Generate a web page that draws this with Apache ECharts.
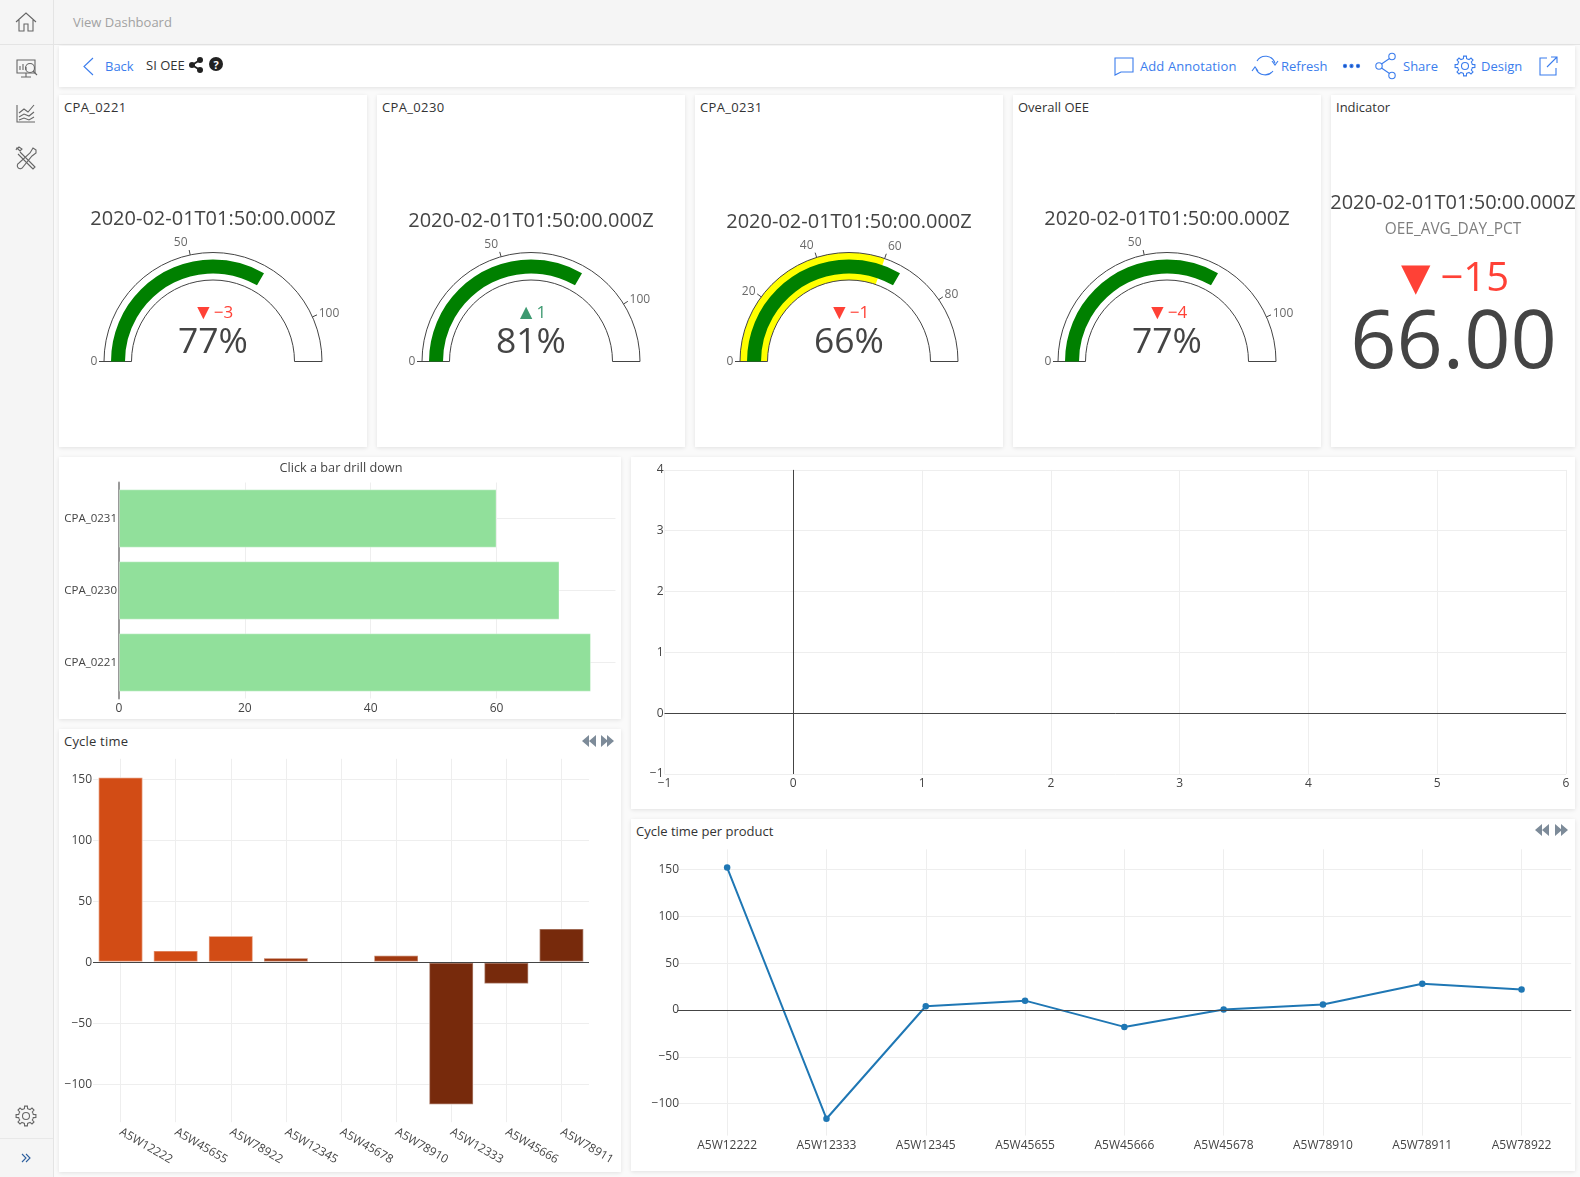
<!DOCTYPE html>
<html>
<head>
<meta charset="utf-8">
<title>SI OEE</title>
<script src="https://cdn.jsdelivr.net/npm/echarts@6/dist/echarts.min.js"></script>
<style>
html,body{margin:0;padding:0;width:1580px;height:1177px;overflow:hidden;background:#fafafa;font-family:"Open Sans",sans-serif;color:#333}
.abs{position:absolute}
.side{left:0;top:0;width:53px;height:1177px;background:#f5f5f5;border-right:1px solid #e4e4e4}
.head{left:54px;top:0;right:0;height:44px;background:#f5f5f5;border-bottom:1px solid #e4e4e4}
.panel{position:absolute;background:#fff;box-shadow:0 1px 4px rgba(0,0,0,.10)}
.t{position:absolute;transform:translateY(-50%);font-size:13px;line-height:18px;white-space:nowrap}
.cpa{letter-spacing:.35px}
.blue{color:#3b7ded}
svg{position:absolute;overflow:visible}
#chart{position:absolute;left:0;top:0;width:1580px;height:1177px}
</style>
</head>
<body>
<div class="abs side"></div>
<div class="abs head"></div>
<div class="abs" style="left:0;top:44px;width:53px;border-top:1px solid #e4e4e4"></div>
<div class="abs" style="left:0;top:1138px;width:53px;border-top:1px solid #e8e8e8"></div>
<span class="t" style="left:73px;top:22px;color:#a2a2a2">View Dashboard</span>

<div class="panel" style="left:59px;top:46px;width:1516px;height:41px"></div>
<div class="panel" style="left:59px;top:95px;width:308px;height:352px"></div>
<div class="panel" style="left:377px;top:95px;width:308px;height:352px"></div>
<div class="panel" style="left:695px;top:95px;width:308px;height:352px"></div>
<div class="panel" style="left:1013px;top:95px;width:308px;height:352px"></div>
<div class="panel" style="left:1331px;top:95px;width:244px;height:352px"></div>
<div class="panel" style="left:59px;top:457px;width:562px;height:262px"></div>
<div class="panel" style="left:59px;top:729px;width:562px;height:443px"></div>
<div class="panel" style="left:631px;top:457px;width:944px;height:352px"></div>
<div class="panel" style="left:631px;top:819px;width:944px;height:352px"></div>

<span class="t blue" style="left:105px;top:66px">Back</span>
<span class="t" style="left:146px;top:65px">SI OEE</span>
<span class="t blue" style="left:1140px;top:66px;letter-spacing:.1px">Add Annotation</span>
<span class="t blue" style="left:1281px;top:66px">Refresh</span>
<span class="t blue" style="left:1403px;top:66px">Share</span>
<span class="t blue" style="left:1481px;top:66px">Design</span>

<span class="t cpa" style="left:64px;top:107px">CPA_0221</span>
<span class="t cpa" style="left:382px;top:107px">CPA_0230</span>
<span class="t cpa" style="left:700px;top:107px">CPA_0231</span>
<span class="t" style="left:1018px;top:107px">Overall OEE</span>
<span class="t" style="left:1336px;top:107px">Indicator</span>
<span class="t" style="left:64px;top:741px;letter-spacing:.2px">Cycle time</span>
<span class="t" style="left:636px;top:831px">Cycle time per product</span>

<!-- sidebar icons -->
<svg style="left:0;top:0" width="54" height="1177" fill="none" stroke="#666" stroke-width="1.1">
  <path d="M16 22 L26 13 L36 22 M19 20 V31 H24 V24 H28 V31 H33 V20"/>
  <path d="M17 60 H35 V73 H17 Z M26 73 V77 M21 77 H31 M20 70 V66 M23 70 V64 M26 70 V67"/>
  <circle cx="30" cy="68" r="4.5"/><path d="M33 71 L37 75"/>
  <path d="M17 105 V122 H35 M19 113 L24 109 L28 112 L34 105 M19 117 L24 114 L29 116 L34 112 M19 120 L24 118 L29 120 L34 117"/>
  <path d="M20 152 L33 165 L35 167 L33 169 L31 167 L18 154 M16 150 L17 148 L20 151 L22 149 L19 147 L17 149"/>
  <path d="M36 150 L33 148 L30 153 L19 163 A3 3 0 1 0 23 167 L32 156 L36 153 Z"/>
  <path class="gear" data-c="26,1116" d=""/>
  <path d="M22 1154 L26 1158 L22 1162 M26 1154 L30 1158 L26 1162" stroke="#2d5f9e"/>
</svg>
<!-- toolbar icons -->
<svg style="left:0;top:0" width="1580" height="90" fill="none" stroke="#3b7ded" stroke-width="1.1">
  <path d="M93 58 L84 66.5 L93 75"/>
  <path d="M1115 58 H1133 V72 H1121 L1115 75 Z"/>
  <path d="M1257 61 A10 10 0 0 1 1275 63 M1273 71 A10 10 0 0 1 1256 69 M1272 61 L1275 65 L1278 61 M1252 71 L1255 67 L1258 71"/>
  <circle cx="1345" cy="66" r="1.6" fill="#1d4fb0"/><circle cx="1351.5" cy="66" r="1.6" fill="#1d4fb0"/><circle cx="1358" cy="66" r="1.6" fill="#1d4fb0"/>
  <circle cx="1379" cy="66" r="3.2"/><circle cx="1392" cy="56.5" r="3.2"/><circle cx="1392" cy="75.5" r="3.2"/>
  <path d="M1381.5 64 L1389.5 58.5 M1381.5 68 L1389.5 73.5"/>
  <path class="gear" data-c="1465,66" d=""/>
  <path d="M1547 58 H1540 V75 H1556 V68 M1547 67 L1557 57 M1551 57 H1557 V63"/>
</svg>
<svg style="left:0;top:0" width="240" height="90" fill="#222">
  <circle cx="192" cy="65" r="3"/><circle cx="200" cy="60" r="3"/><circle cx="200" cy="70" r="3"/>
  <path d="M192 65 L200 60 M192 65 L200 70" stroke="#222" stroke-width="2"/>
  <circle cx="216" cy="64" r="7"/>
  <text x="216" y="68.5" text-anchor="middle" font-size="11" font-weight="700" fill="#fff" font-family="Open Sans">?</text>
</svg>
<!-- paging arrows -->
<svg style="left:0;top:0" width="1580" height="860" fill="#7d8b99">
  <path d="M589 735 L582 741 L589 747 Z M596 735 L589 741 L596 747 Z M601 735 L608 741 L601 747 Z M607 735 L614 741 L607 747 Z"/>
  <path d="M1542 824 L1535 830 L1542 836 Z M1549 824 L1542 830 L1549 836 Z M1555 824 L1562 830 L1555 836 Z M1561 824 L1568 830 L1561 836 Z"/>
</svg>

<div id="chart"></div>
<script>
// ---- data ----
const gaugeNames    = ['CPA_0221', 'CPA_0230', 'CPA_0231', 'Overall OEE'];
const gaugeValues   = [77, 81, 66, 77];
const gaugeRangeMax = [115.5, 121.5, 99, 115.5];
const gaugeTicks    = [[0, 50, 100], [0, 50, 100], [0, 20, 40, 60, 80], [0, 50, 100]];
const gaugeSteps    = [0, 0, 60, 0];
const gaugeDeltas   = [-3, 1, -1, -4];
const timeStamp     = '2020-02-01T01:50:00.000Z';
const indicatorName = 'OEE_AVG_DAY_PCT';
const indicatorValue= 66.00;
const indicatorDelta= -15;

const drillCategories = ['CPA_0221', 'CPA_0230', 'CPA_0231'];
const drillValues     = [75, 70, 60];
const drillTicks      = [0, 20, 40, 60];

const cycleCategories = ['A5W12222','A5W45655','A5W78922','A5W12345','A5W45678','A5W78910','A5W12333','A5W45666','A5W78911'];
const cycleValues     = [152, 10, 22, 4, 0.3, 6, -117, -18, 28];
const cycleTicks      = [-100, -50, 0, 50, 100, 150];
const cycleColors     = ['#d24c15','#d24c15','#d24c15','#a0390f','#a0390f','#a0390f','#772a0c','#772a0c','#772a0c'];

const productCategories = ['A5W12222','A5W12333','A5W12345','A5W45655','A5W45666','A5W45678','A5W78910','A5W78911','A5W78922'];
const productValues     = [152, -116, 4, 10, -18, 0.5, 6, 28, 22];
const productTicks      = [-100, -50, 0, 50, 100, 150];

// ---- chrome: gear icons ----
document.querySelectorAll('.gear').forEach(el => {
  const [cx, cy] = el.dataset.c.split(',').map(Number);
  let d = '';
  const teeth = 8;
  for (let i = 0; i < teeth; i++) {
    const a = i * 2 * Math.PI / teeth, w = Math.PI / teeth;
    const pts = [[7.5, a - w], [7.5, a - w * .55], [10, a - w * .35], [10, a + w * .35], [7.5, a + w * .55]];
    pts.forEach(([r, t], j) => {
      d += (i === 0 && j === 0 ? 'M' : 'L') + (cx + r * Math.cos(t)).toFixed(1) + ' ' + (cy + r * Math.sin(t)).toFixed(1) + ' ';
    });
  }
  d += 'Z M' + (cx + 3.5) + ' ' + cy + ' A3.5 3.5 0 1 0 ' + (cx - 3.5) + ' ' + cy + ' A3.5 3.5 0 1 0 ' + (cx + 3.5) + ' ' + cy;
  el.setAttribute('d', d);
});

// ---- layout ----
const FONT = '"Open Sans", sans-serif';
const INK = '#444';
const GRIDC = '#eeeeee';
const RED = '#ff4136', GREEN = '#3d9970';
const gaugeCx = [213, 531, 849, 1167];
const gaugeCy = 361.5;
const stampTop = [219, 221, 222, 219];
const OUTER = 109;
const TICK_LEN = 5;
const minus = v => String(v).replace('-', '\u2212');

const chart = echarts.init(document.getElementById('chart'), null, {renderer: 'canvas'});
const series = [], titles = [], polars = [], angleAxes = [], radiusAxes = [];
const pieBase = {type:'pie', silent:true, animation:false, startAngle:180, endAngle:0, clockwise:true,
  label:{show:false}, labelLine:{show:false}, emphasis:{disabled:true}};
const textTitle = (text, left, top, style) => ({text, left, top, padding:0, textAlign:'center', textVerticalAlign:'middle',
  textStyle:Object.assign({fontFamily:FONT, fontWeight:'normal', color:INK}, style)});
const hidden = {axisLine:{show:false}, axisTick:{show:false}, axisLabel:{show:false}, splitLine:{show:false}};

gaugeNames.forEach((name, i) => {
  const c = [gaugeCx[i], gaugeCy], max = gaugeRangeMax[i], ticks = gaugeTicks[i];
  const lastTick = ticks[ticks.length - 1];
  titles.push(textTitle(timeStamp, gaugeCx[i], stampTop[i], {fontSize:20}));
  series.push(Object.assign({}, pieBase, {name: name+' bg', center:c, radius:[81.5,OUTER], z:1,
    data:[{value:max, itemStyle:{color:'#fff'}}]}));
  if (gaugeSteps[i]) series.push({type:'gauge', z:2, silent:true, center:c, radius:OUTER, startAngle:180, endAngle:0, min:0, max:max,
    axisLine:{show:false, lineStyle:{width:0}}, splitLine:{show:false}, axisTick:{show:false}, axisLabel:{show:false}, pointer:{show:false},
    title:{show:false}, detail:{show:false},
    progress:{show:true, width:27.5, itemStyle:{color:'#ffff00'}},
    data:[{value:gaugeSteps[i]}]});
  series.push(Object.assign({}, pieBase, {name: name+' outline', center:c, radius:[81.5,OUTER], z:3,
    data:[{value:max, itemStyle:{color:'rgba(0,0,0,0)', borderColor:INK, borderWidth:1}}]}));
  const d = gaugeDeltas[i], col = d<0 ? RED : GREEN;
  series.push({type:'gauge', name:name, z:4, silent:true, center:c, radius:102, startAngle:180, endAngle:0, min:0, max:max,
    axisLine:{show:false, lineStyle:{width:0}}, splitLine:{show:false}, axisTick:{show:false}, axisLabel:{show:false}, pointer:{show:false},
    progress:{show:true, width:14, itemStyle:{color:'#008000'}},
    title:{offsetCenter:[0,-48.5], fontFamily:FONT, fontSize:17, color:col, rich:{t:{fontSize:21, color:col, fontFamily:FONT}}},
    detail:{offsetCenter:[0,-18.5], fontFamily:FONT, fontSize:35.5, color:INK, fontWeight:'normal', formatter:'{value}%'},
    data:[{value:gaugeValues[i], name:'{t|'+(d<0?'\u25BC':'\u25B2')+'}'+minus(d)}]});
  // tick marks through the gauge scale
  series.push({type:'gauge', z:5, silent:true, center:c, radius:OUTER, startAngle:180,
    endAngle:180-180*lastTick/max, min:0, max:lastTick, splitNumber:ticks.length-1,
    axisLine:{show:false, lineStyle:{width:0}}, axisTick:{show:false}, axisLabel:{show:false},
    pointer:{show:false}, title:{show:false}, detail:{show:false},
    splitLine:{show:true, length:TICK_LEN, distance:-TICK_LEN, lineStyle:{color:INK, width:1}},
    data:[{value:0}]});
  // tick labels anchored at the outer tick end through a polar scale with the same angle mapping
  polars.push({center:c, radius:[0,2*OUTER]});
  radiusAxes.push(Object.assign({polarIndex:i, type:'value', min:0, max:2*OUTER}, hidden));
  angleAxes.push(Object.assign({polarIndex:i, type:'value', min:0, max:2*max, startAngle:180, clockwise:true}, hidden));
  series.push({type:'scatter', coordinateSystem:'polar', polarIndex:i, z:6, silent:true, symbolSize:1, clip:false,
    itemStyle:{color:'rgba(0,0,0,0)'},
    label:{show:true, position:'inside', fontFamily:FONT, fontSize:12, color:INK, formatter:p=>String(p.value[1])},
    data:ticks.map(t => {
      const a = Math.PI*t/max, cos = -Math.cos(a), sin = Math.sin(a), w = 7*String(t).length;
      return {value:[OUTER+TICK_LEN, t], label:{offset:[Math.sign(cos)*(w/2+1.5), -sin*sin*7.5]}};
    })});
});

// indicator
titles.push(textTitle(timeStamp, 1453, 203.5, {fontSize:20}));
titles.push(textTitle(indicatorName, 1453, 229.5, {fontSize:15.4, color:'#7f7f7f'}));
titles.push(textTitle('{t|\u25BC}'+minus(indicatorDelta), 1450, 280, {fontSize:40, color:RED, rich:{t:{fontSize:50, color:RED, fontFamily:FONT}}}));
titles.push(textTitle(indicatorValue.toFixed(2), 1453.5, 345, {fontSize:81}));
titles.push(textTitle('Click a bar drill down', 341, 468, {fontSize:12.7}));

const tickLabel = {fontFamily:FONT, fontSize:12, color:INK, formatter:minus};
const grids = [
  {left:119, top:482.5, width:496.5, height:216},
  {left:93,  top:758.8, width:496,   height:363.4},
  {left:664.5, top:469.9, width:901.5, height:304.1},
  {left:677.5, top:849.3, width:893.7, height:286.3}
];
const lineZero = v => ({silent:true, symbol:'none', label:{show:false}, animation:false,
  lineStyle:{color:INK, width:1, type:'solid'}, data: v});

const xAxes = [
  {gridIndex:0, type:'value', min:0, max:78.9,
    axisLine:{show:false}, axisTick:{show:false, customValues:drillTicks},
    axisLabel:Object.assign({}, tickLabel, {margin:4, customValues:drillTicks}),
    splitLine:{show:true, lineStyle:{color:GRIDC}}},
  {gridIndex:1, type:'category', data:cycleCategories, axisLine:{show:false, onZero:false}, axisTick:{show:false},
    axisLabel:{fontFamily:FONT, fontSize:11.8, color:INK, rotate:-30, interval:0, margin:9},
    splitLine:{show:true, interval:0, alignWithLabel:true, lineStyle:{color:GRIDC}}},
  {gridIndex:2, type:'value', min:-1, max:6, interval:1, axisLine:{show:false, onZero:false}, axisTick:{show:false},
    axisLabel:Object.assign({}, tickLabel, {margin:4}), splitLine:{show:true, lineStyle:{color:GRIDC}}},
  {gridIndex:3, type:'category', data:productCategories, axisLine:{show:false, onZero:false}, axisTick:{show:false},
    axisLabel:{fontFamily:FONT, fontSize:12, color:INK, interval:0, margin:4},
    splitLine:{show:true, interval:0, alignWithLabel:true, lineStyle:{color:GRIDC}}}
];
const yAxes = [
  {gridIndex:0, type:'category', data:drillCategories,
    axisLine:{show:true, lineStyle:{color:'#999', width:2}}, axisTick:{show:false},
    axisLabel:{fontFamily:FONT, fontSize:11.5, color:INK, margin:2, interval:0},
    splitLine:{show:true, interval:0, alignWithLabel:true, lineStyle:{color:GRIDC}}},
  {gridIndex:1, type:'value', min:-131.2, max:167,
    axisLine:{show:false}, axisTick:{show:false, customValues:cycleTicks},
    axisLabel:Object.assign({}, tickLabel, {margin:1, customValues:cycleTicks}),
    splitLine:{show:true, lineStyle:{color:GRIDC}}},
  {gridIndex:2, type:'value', min:-1, max:4, interval:1, axisLine:{show:false, onZero:false}, axisTick:{show:false},
    axisLabel:Object.assign({}, tickLabel, {margin:1}), splitLine:{show:true, lineStyle:{color:GRIDC}}},
  {gridIndex:3, type:'value', min:-134, max:171.5,
    axisLine:{show:false}, axisTick:{show:false, customValues:productTicks},
    axisLabel:Object.assign({}, tickLabel, {margin:-1.5, customValues:productTicks}),
    splitLine:{show:true, lineStyle:{color:GRIDC}}}
];

series.push({type:'bar', name:'Click a bar drill down', xAxisIndex:0, yAxisIndex:0, data:drillValues, barCategoryGap:'19%',
  itemStyle:{color:'#91e09b', borderColor:'rgba(255,255,255,.35)', borderWidth:1}});
series.push({type:'bar', name:'Cycle time', xAxisIndex:1, yAxisIndex:1, barCategoryGap:'18%', z:3,
  data:cycleValues.map((v,i)=>({value:v, itemStyle:{color:cycleColors[i]}})),
  itemStyle:{borderColor:'rgba(255,255,255,.4)', borderWidth:1.5},
  markLine:lineZero([{yAxis:0}])});
series.push({type:'line', name:'empty', xAxisIndex:2, yAxisIndex:2, data:[], showSymbol:false,
  markLine:lineZero([{xAxis:0},{yAxis:0}])});
series.push({type:'line', name:'Cycle time per product', xAxisIndex:3, yAxisIndex:3, data:productValues, symbol:'circle', symbolSize:6.5,
  lineStyle:{color:'#1f77b4', width:2}, itemStyle:{color:'#1f77b4'},
  markLine:lineZero([{yAxis:0}])});

chart.setOption({animation:false, tooltip:{show:false}, title:titles, polar:polars, radiusAxis:radiusAxes, angleAxis:angleAxes,
  grid:grids, xAxis:xAxes, yAxis:yAxes, series:series});
</script>
</body>
</html>
